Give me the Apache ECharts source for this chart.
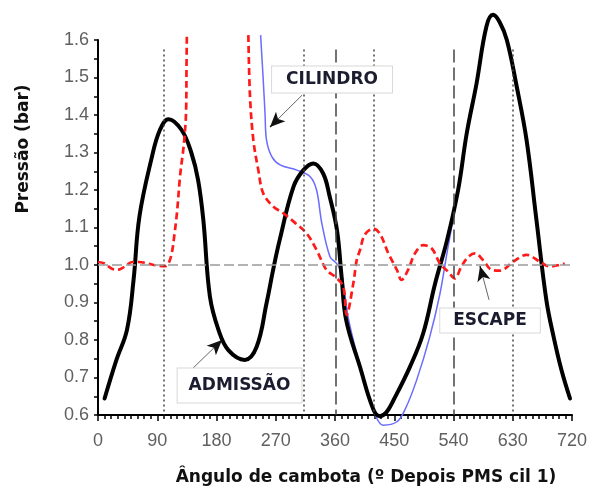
<!DOCTYPE html>
<html>
<head>
<meta charset="utf-8">
<script src="https://cdn.jsdelivr.net/npm/echarts@6/dist/echarts.min.js"></script>
<style>
html,body{margin:0;padding:0;background:#fff;}
#chart{width:591px;height:490px;}
</style>
</head>
<body>
<div id="chart"></div>
<script>
// ---- data (crank angle in degrees, pressure in bar) ----
var xTicks = [0, 90, 180, 270, 360, 450, 540, 630, 720];
var yTicks = [0.6, 0.7, 0.8, 0.9, 1.0, 1.1, 1.2, 1.3, 1.4, 1.5, 1.6];

var admissao = [
  [10,0.644],[28,0.747],[44,0.827],[54,0.96],[63,1.13],
  [82,1.289],[94,1.36],[107,1.389],[127,1.36],[142,1.298],[152,1.227],
  [160,1.12],[170,0.916],[183,0.827],[198,0.773],[223,0.747],
  [241,0.782],[256,0.898],[266,0.987],[276,1.067],[297,1.209],[312,1.253],
  [327,1.271],[342,1.244],[352,1.182],[363,1.093],[370,0.969],[377,0.853],[398,0.728],
  [418,0.616],[428,0.597],[438,0.607],[449,0.64],[474,0.729],[494,0.818],
  [512,0.95],[530,1.065],[547,1.2],[560,1.35],[575,1.484],[590,1.636],[600,1.667],
  [610,1.648],[621,1.6],[636,1.476],[651,1.333],[666,1.12],[681,0.907],[692,0.809],[704,0.72],[717,0.644]
];

var escape = [
  [0,1.008],[10,1.004],[20,0.991],[29,0.987],[40,0.995],[52,1.008],[62,1.008],[71,1.006],[85,1.0],
  [102,0.997],[107,1.004],[112,1.031],[116,1.08],[120,1.14],[124.6,1.236],[129,1.3],[131,1.333],
  [133.7,1.404],[134.5,1.538],[135,1.615],[180,null],
  [228.4,1.613],[230.9,1.449],[236,1.333],[243.5,1.253],[251,1.191],[266,1.156],[281.5,1.138],
  [299,1.113],[317,1.084],[332,1.04],[347,0.987],[360,0.969],[372.5,0.942],[377.7,0.867],
  [387.8,0.951],[393,1.013],[398,1.04],[405,1.08],[418,1.097],[428,1.084],[441,1.031],[454,0.987],
  [461,0.96],[471,0.987],[481.5,1.031],[494,1.053],[507,1.044],[519.5,1.004],[532,0.982],[542,0.964],
  [552,0.996],[562.5,1.022],[572.7,1.031],[585,1.013],[598,0.987],[610.7,0.985],[631,1.009],
  [651,1.027],[671,1.009],[686.6,0.996],[709,1.004]
];

var cilindro = [
  [247,1.613],[251,1.493],[253.7,1.404],[256,1.333],[264,1.289],[276.5,1.267],[302,1.253],
  [322,1.236],[332,1.2],[340,1.111],[352.4,1.022],[362.5,1.004],[370,0.978],[380,0.86],
  [395,0.75],[410,0.655],[421,0.6],[433,0.573],[454,0.582],[466,0.613],[484,0.693],[504,0.809],
  [519.5,0.924],[530,1.031],[539,1.12],[545,1.19]
];

// valve events / dead centres (degrees)
var dottedEvents = [100, 313, 419, 630];   // AVE, AVA, FVE, FVA
var dashedEvents = [361, 541];             // PMS, PMI
var eventNames = ['AVE', 'AVA', 'PMS', 'FVE', 'PMI', 'FVA'];
var eventNameAt = [96, 292, 368, 442, 538.5, 629];

var chart = echarts.init(document.getElementById('chart'), null, {renderer: 'canvas'});

var boldFont = '"DejaVu Sans", sans-serif';
var guideTop = 1.575;

var markLines = [];
dottedEvents.forEach(function (x) {
  markLines.push([{coord: [x, guideTop], lineStyle: {type: [2, 3], color: '#444', width: 1.5}}, {coord: [x, 0.6]}]);
});
dashedEvents.forEach(function (x) {
  markLines.push([{coord: [x, guideTop], lineStyle: {type: [13, 5], color: '#444', width: 1.5}}, {coord: [x, 0.6]}]);
});
markLines.push([{coord: [0, 1.0], lineStyle: {type: [10, 4], color: '#9a9a9a', width: 1.5}}, {coord: [720, 1.0]}]);

var topLabels = eventNames.map(function (n, i) {
  return {
    coord: [eventNameAt[i], 1.608], value: n, symbol: 'rect', symbolSize: 0,
    label: {show: true, position: 'inside', formatter: n, color: '#222', fontFamily: boldFont,
            fontWeight: 'bold', fontSize: 16}
  };
});

function box(text, x, y, pad) {
  return {
    coord: [x, y], value: text, symbol: 'rect', symbolSize: 0,
    label: {show: true, position: 'inside', formatter: text, color: '#1c1c30', fontFamily: boldFont,
            fontWeight: 'bold', fontSize: 17, backgroundColor: '#fff', borderColor: '#d8d8d8',
            borderWidth: 1, padding: pad}
  };
}

// arrow: grey shaft plus a black head on a short final piece
function arrowShaft(x1, y1, x2, y2) {
  return [{coord: [x1, y1], symbol: 'none', lineStyle: {color: '#666', width: 1, type: 'solid'}},
          {coord: [x2, y2], symbol: 'none'}];
}
function arrowHead(x1, y1, x2, y2) {
  var t = 0.75;
  return [{coord: [x1 + (x2 - x1) * t, y1 + (y2 - y1) * t], symbol: 'none',
           lineStyle: {color: '#111', width: 1.2, type: 'solid'}},
          {coord: [x2, y2], symbol: 'arrow', symbolSize: [10, 15]}];
}
var arrows = [[310, 1.453, 261.3, 1.368], [144.3, 0.725, 188.4, 0.8], [594, 0.907, 580.3, 0.997]];
var arrowLines = [];
arrows.forEach(function (a) {
  arrowLines.push(arrowShaft(a[0], a[1], a[2], a[3]));
  arrowLines.push(arrowHead(a[0], a[1], a[2], a[3]));
});

var option = {
  animation: false,
  backgroundColor: '#fff',
  grid: {left: 98, right: 19, top: 40, bottom: 75, containLabel: false},
  xAxis: {
    type: 'value', min: 0, max: 720, interval: 90,
    axisLine: {show: true, lineStyle: {color: '#000', width: 2}},
    axisTick: {show: true, length: 6, lineStyle: {color: '#000', width: 1.5}},
    minorTick: {show: true, splitNumber: 9, length: 4, lineStyle: {color: '#000', width: 1.5}},
    splitLine: {show: false},
    axisLabel: {fontSize: 18, color: '#606060', fontFamily: '"Liberation Sans", Arial, sans-serif', margin: 17,
      formatter: function (v) { return xTicks.indexOf(v) >= 0 ? String(v) : ''; }}
  },
  yAxis: {
    type: 'value', min: 0.6, max: 1.6, interval: 0.1,
    axisLine: {show: true, lineStyle: {color: '#000', width: 2}},
    axisTick: {show: true, length: 4, lineStyle: {color: '#000', width: 1.5}},
    minorTick: {show: true, splitNumber: 2, length: 4, lineStyle: {color: '#000', width: 1.5}},
    splitLine: {show: false},
    axisLabel: {fontSize: 18, color: '#606060', fontFamily: '"Liberation Sans", Arial, sans-serif', margin: 9,
      formatter: function (v) { return v.toFixed(1); }}
  },
  graphic: [
    {type: 'text', x: 366, y: 478, style: {text: 'Ângulo de cambota (º Depois PMS cil 1)',
      font: 'bold 17px "DejaVu Sans", sans-serif', fill: '#111', textAlign: 'center', textVerticalAlign: 'middle'}},
    {type: 'text', x: 24, y: 149, rotation: Math.PI / 2, style: {text: 'Pressão (bar)',
      font: 'bold 17px "DejaVu Sans", sans-serif', fill: '#111', textAlign: 'center', textVerticalAlign: 'middle'}}
  ],
  series: [
    {
      name: 'guides', type: 'line', data: [], z: 1, silent: true,
      markLine: {silent: true, symbol: ['none', 'none'], label: {show: false}, animation: false, data: markLines},
      markPoint: {silent: true, animation: false, data: topLabels}
    },
    {
      name: 'CILINDRO', type: 'line', data: cilindro, z: 2, clip: false, showSymbol: false,
      smooth: 0.35,
      lineStyle: {color: '#6b6bff', width: 1.5}
    },
    {
      name: 'ADMISSÃO', type: 'line', data: admissao, z: 3, clip: false, showSymbol: false,
      smooth: 0.4,
      lineStyle: {color: '#000', width: 4, join: 'round', cap: 'round'}
    },
    {
      name: 'ESCAPE', type: 'line', data: escape, z: 4, clip: false, showSymbol: false,
      smooth: 0.35, connectNulls: false,
      lineStyle: {color: '#ff1a1a', width: 2.7, type: [7, 4]}
    },
    {
      name: 'notes', type: 'line', data: [], z: 6, silent: true,
      markLine: {silent: true, symbol: ['none', 'arrow'], label: {show: false}, animation: false,
        data: arrowLines},
      markPoint: {silent: true, animation: false, data: [
        box('CILINDRO', 355.5, 1.495, [5, 14, 4, 14]),
        box('ADMISSÃO', 215, 0.679, [9, 11, 8, 11]),
        box('ESCAPE', 595.5, 0.852, [4, 13, 3, 13])
      ]}
    }
  ]
};
chart.setOption(option);
</script>
</body>
</html>
